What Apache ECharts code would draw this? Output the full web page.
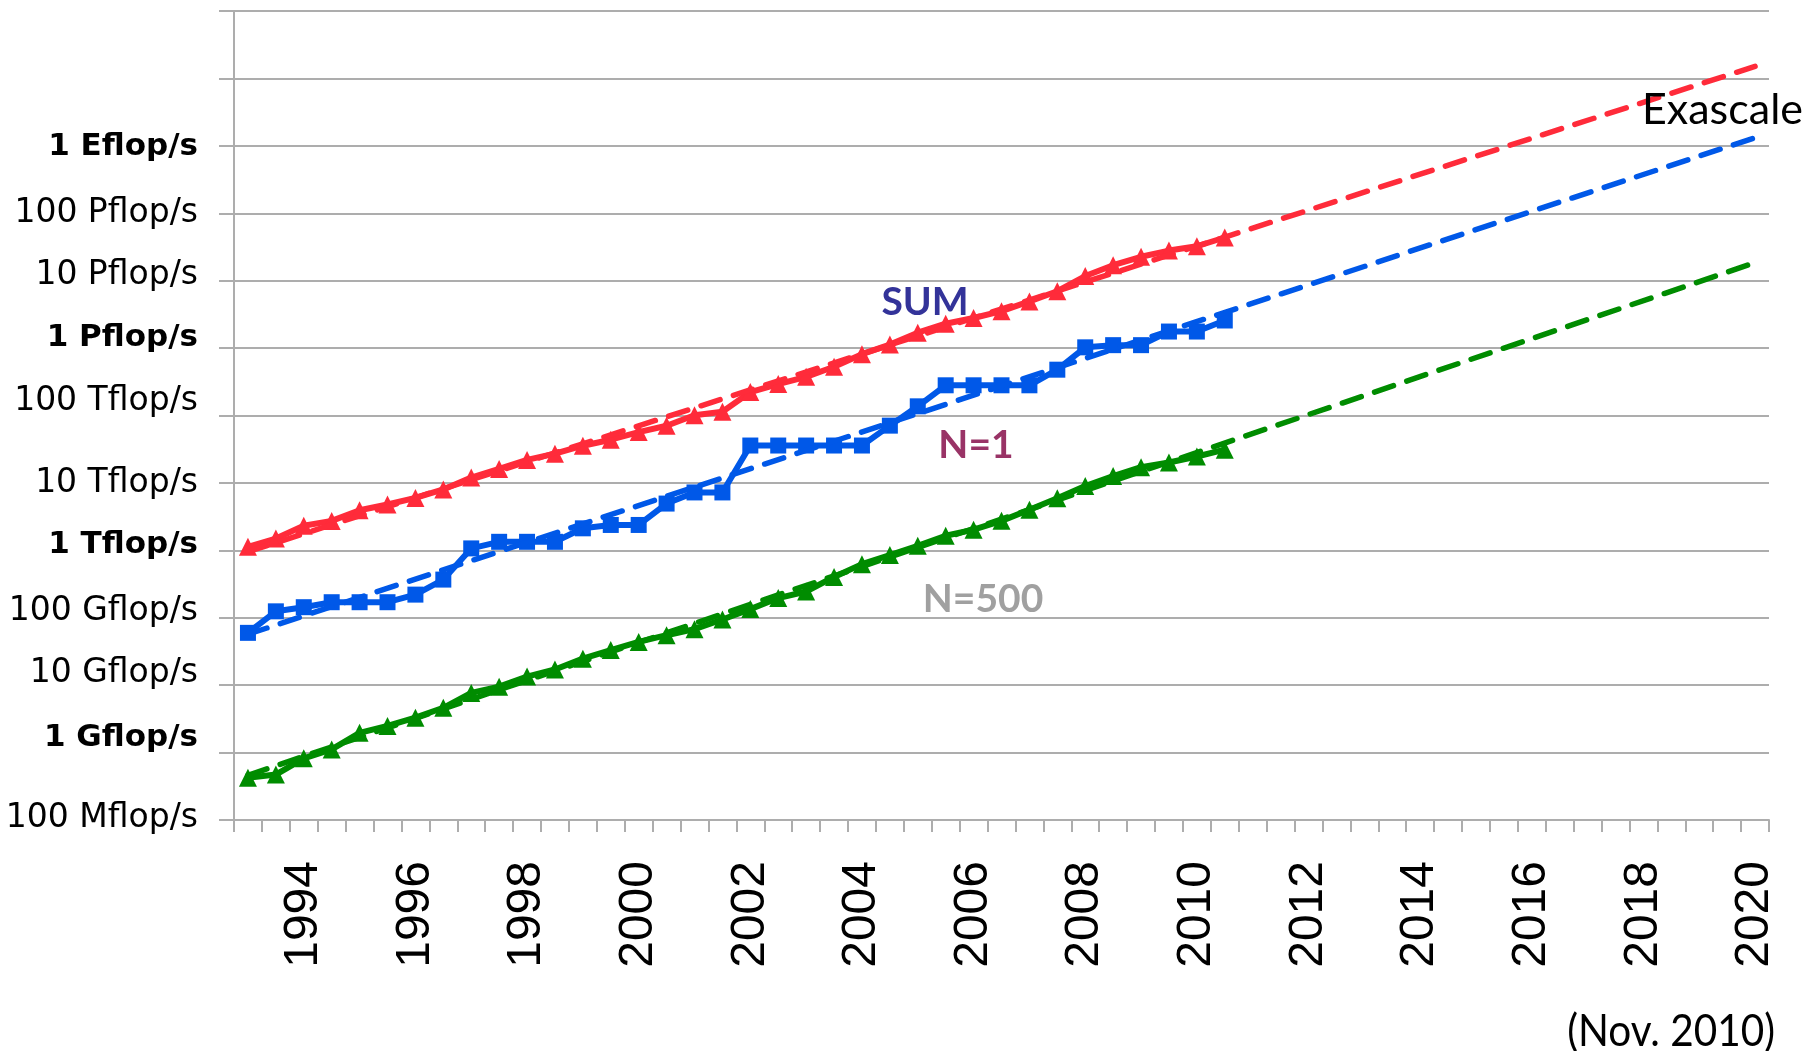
<!DOCTYPE html>
<html>
<head>
<meta charset="utf-8">
<title>Performance Development</title>
<script src="https://cdn.jsdelivr.net/npm/echarts@6/dist/echarts.min.js"></script>
<style>
  html, body { margin: 0; padding: 0; background: #ffffff; }
  #chart { width: 1807px; height: 1051px; }
</style>
</head>
<body>
<div id="chart"></div>
<script>
// TOP500 list dates (June / November), extended to mid-2020 for the projections
const listDates = [
  '1993-06','1993-11','1994-06','1994-11','1995-06','1995-11','1996-06','1996-11',
  '1997-06','1997-11','1998-06','1998-11','1999-06','1999-11','2000-06','2000-11',
  '2001-06','2001-11','2002-06','2002-11','2003-06','2003-11','2004-06','2004-11',
  '2005-06','2005-11','2006-06','2006-11','2007-06','2007-11','2008-06','2008-11',
  '2009-06','2009-11','2010-06','2010-11','2011-06','2011-11','2012-06','2012-11',
  '2013-06','2013-11','2014-06','2014-11','2015-06','2015-11','2016-06','2016-11',
  '2017-06','2017-11','2018-06','2018-11','2019-06','2019-11','2020-06'
];

// Aggregate performance of all 500 systems, Gflop/s
const sumPerf = [
  1128.6, 1493.4, 2317, 2732, 3927, 4784, 5992, 7990,
  12011, 16150, 21919, 27160, 35614, 43750, 56790, 70360,
  101100, 113700, 222400, 292500, 374900, 528300, 811900, 1126000,
  1690000, 2300000, 2792000, 3530000, 4920000, 6970000, 11700000, 16950000,
  22600000, 27950000, 32400000, 43700000
];

// Fastest system (N=1), Gflop/s
const n1Perf = [
  59.7, 124.5, 143.4, 170, 170, 170, 220.4, 368.2,
  1068, 1338, 1338, 1338, 2121, 2379, 2379, 4938,
  7226, 7226, 35860, 35860, 35860, 35860, 35860, 70720,
  136800, 280600, 280600, 280600, 280600, 478200, 1026000, 1105000,
  1105000, 1759000, 1759000, 2566000
];

// Entry level system (N=500), Gflop/s
const n500Perf = [
  0.422, 0.472, 0.822, 1.114, 1.964, 2.489, 3.3, 4.62,
  7.67, 9.51, 13.4, 17.1, 24.73, 33.1, 43.82, 55.1,
  67.78, 94.3, 134.3, 195.8, 245.1, 403.4, 624, 850.6,
  1166, 1646, 2026, 2737, 4005, 5929, 9000, 12640,
  17090, 20050, 24670, 31120
];

// Exponential trend lines: [list index, Gflop/s] at both ends
const sumTrend  = [[0, 955],   [54, 1.51e10]];
const n1Trend   = [[0, 56.9],  [54, 1.32e9]];
const n500Trend = [[0, 0.46],  [54, 1.85e7]];

// One label per decade, from 0.1 Gflop/s up to 1e11 Gflop/s
const yTickLabels = [
  '100 Mflop/s', '1 Gflop/s', '10 Gflop/s', '100 Gflop/s', '1 Tflop/s',
  '10 Tflop/s', '100 Tflop/s', '1 Pflop/s', '10 Pflop/s', '100 Pflop/s',
  '1 Eflop/s', '', ''
];

// Small vertical nudges of the hand-placed decade labels (px, + = down)
const yLabelNudge = [-2, -15, -12, -6, -5, 1, -14, -10, -5, 0, 1, 0, 0];

const RED = '#FF2B3A';
const BLUE = '#0058E8';
const GREEN = '#008C00';
const GRID_GRAY = '#ADADAD';

const richY = {};
yTickLabels.forEach(function (t, k) {
  const d = yLabelNudge[k];
  const pad = d < 0 ? [0, 0, -2 * d, 0] : [2 * d, 0, 0, 0];
  richY['r' + k] = { fontFamily: 'DejaVu Sans', fontSize: 33, color: '#000', padding: pad };
  richY['b' + k] = { fontFamily: 'DejaVu Sans', fontSize: 31, fontWeight: 'bold', color: '#000', padding: pad };
});

function lineSeries(name, data, color, symbol, size) {
  return {
    name: name, type: 'line', data: data,
    symbol: symbol, symbolSize: size, showSymbol: true,
    lineStyle: { color: color, width: 6 },
    itemStyle: { color: color },
    z: 3
  };
}

function trendSeries(name, data, color) {
  return {
    name: name, type: 'line', data: data,
    symbol: 'none',
    lineStyle: { color: color, width: 5.5, type: [20, 14], cap: 'round' },
    z: 4
  };
}

const chart = echarts.init(document.getElementById('chart'), null, { renderer: 'canvas' });

chart.setOption({
  animation: false,
  backgroundColor: '#ffffff',
  grid: { left: 234, right: 38, top: 11, bottom: 231, containLabel: false },
  xAxis: {
    type: 'category',
    data: listDates,
    boundaryGap: true,
    axisLine: { show: true, lineStyle: { color: GRID_GRAY, width: 2 } },
    axisTick: { show: true, interval: 0, length: 12, lineStyle: { color: GRID_GRAY, width: 2 } },
    axisLabel: {
      interval: function (i) { return i % 4 === 2; },
      formatter: function (v) { return v.slice(0, 4); },
      rotate: 90,
      margin: 41,
      fontFamily: 'Liberation Sans',
      fontSize: 48,
      color: '#000'
    },
    splitLine: { show: false }
  },
  yAxis: {
    type: 'log',
    logBase: 10,
    min: 0.1,
    max: 1e11,
    interval: 1,
    axisLine: { show: true, lineStyle: { color: GRID_GRAY, width: 2 } },
    axisTick: { show: true, length: 15, lineStyle: { color: GRID_GRAY, width: 2 } },
    splitLine: { show: true, lineStyle: { color: GRID_GRAY, width: 2 } },
    minorTick: { show: false },
    axisLabel: {
      margin: 36,
      formatter: function (v) {
        const k = Math.round(Math.log10(v)) + 1;
        const t = yTickLabels[k];
        if (!t) return '';
        const bold = t.indexOf('1 ') === 0;
        return '{' + (bold ? 'b' : 'r') + k + '|' + t + '}';
      },
      rich: richY
    }
  },
  series: [
    lineSeries('SUM', sumPerf, RED, 'triangle', 18),
    lineSeries('N=1', n1Perf, BLUE, 'rect', 16),
    lineSeries('N=500', n500Perf, GREEN, 'triangle', 18),
    trendSeries('SUM trend', sumTrend, RED),
    trendSeries('N=1 trend', n1Trend, BLUE),
    trendSeries('N=500 trend', n500Trend, GREEN)
  ],
  graphic: [
    {
      type: 'text', x: 1642, y: 110, z: 10,
      style: { text: 'Exascale', font: '43px Lato', fill: '#000', textAlign: 'left', textVerticalAlign: 'middle' }
    },
    {
      type: 'text', x: 925, y: 302, z: 10,
      style: { text: 'SUM', font: 'bold 39px Lato', fill: '#333399', textAlign: 'center', textVerticalAlign: 'middle' }
    },
    {
      type: 'text', x: 976, y: 445, z: 10,
      style: { text: 'N=1', font: 'bold 39px Lato', fill: '#993366', textAlign: 'center', textVerticalAlign: 'middle' }
    },
    {
      type: 'text', x: 983, y: 599, z: 10,
      style: { text: 'N=500', font: 'bold 39px Lato', fill: '#A0A0A0', textAlign: 'center', textVerticalAlign: 'middle' }
    },
    {
      type: 'text', x: 1775, y: 1031, scaleX: 0.9, z: 10,
      style: { text: '(Nov. 2010)', font: '45px Lato', fill: '#000', textAlign: 'right', textVerticalAlign: 'middle' }
    }
  ]
});
</script>
</body>
</html>
